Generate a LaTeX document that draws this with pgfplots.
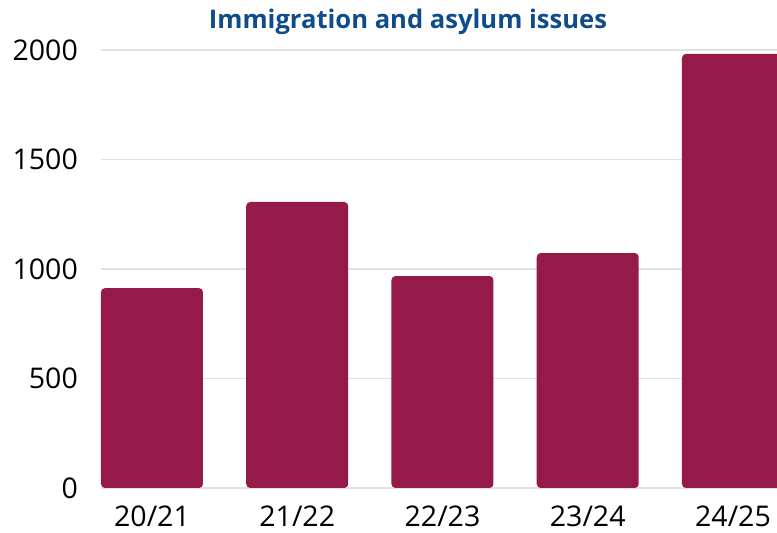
\documentclass[border=0pt]{standalone}
\usepackage{pgfplots}
\pgfplotsset{compat=1.18}
\usepackage{fontspec}
\setmainfont{Open Sans}
\definecolor{barc}{HTML}{951A4A}
\definecolor{titleblue}{HTML}{0F4C8A}
\definecolor{gridc}{HTML}{E2E2E2}
\begin{document}
\begin{tikzpicture}
\begin{axis}[
  scale only axis, width=676pt, height=438pt,
  at={(0pt,0pt)}, anchor=south west,
  xmin=-0.351, xmax=4.303, ymin=0, ymax=2000,
  xtick={0,1,2,3,4},
  xticklabels={20/21,21/22,22/23,23/24,24/25},
  ytick={0,500,1000,1500,2000},
  ymajorgrids, major grid style={gridc, line width=1.2pt},
  axis line style={draw=none},
  tick style={draw=none},
  /pgf/number format/assume math mode=true,
  scaled y ticks=false,
  yticklabel={\pgfmathprintnumber[fixed,1000 sep={}]{\tick}},
  tick label style={font=\fontsize{28.5}{30}\selectfont, text=black},
  yticklabel style={anchor=east, inner sep=0pt, xshift=-23pt},
  xticklabel style={anchor=base, inner sep=0pt, yshift=-34pt},
  ybar, bar width=102pt,
]
\addplot[ybar, fill=barc, draw=none, rounded corners=4pt] coordinates {
  (0,913) (1,1306) (2,968) (3,1073) (4,1982)
};
\end{axis}
\node[anchor=base, inner sep=0pt, text=titleblue, font=\fontsize{25.6}{28}\selectfont\bfseries] at (307pt,459pt) {Immigration and asylum issues};
\pgfresetboundingbox
\useasboundingbox (-101pt,-45pt) rectangle (676pt,488pt);
\end{tikzpicture}
\end{document}
